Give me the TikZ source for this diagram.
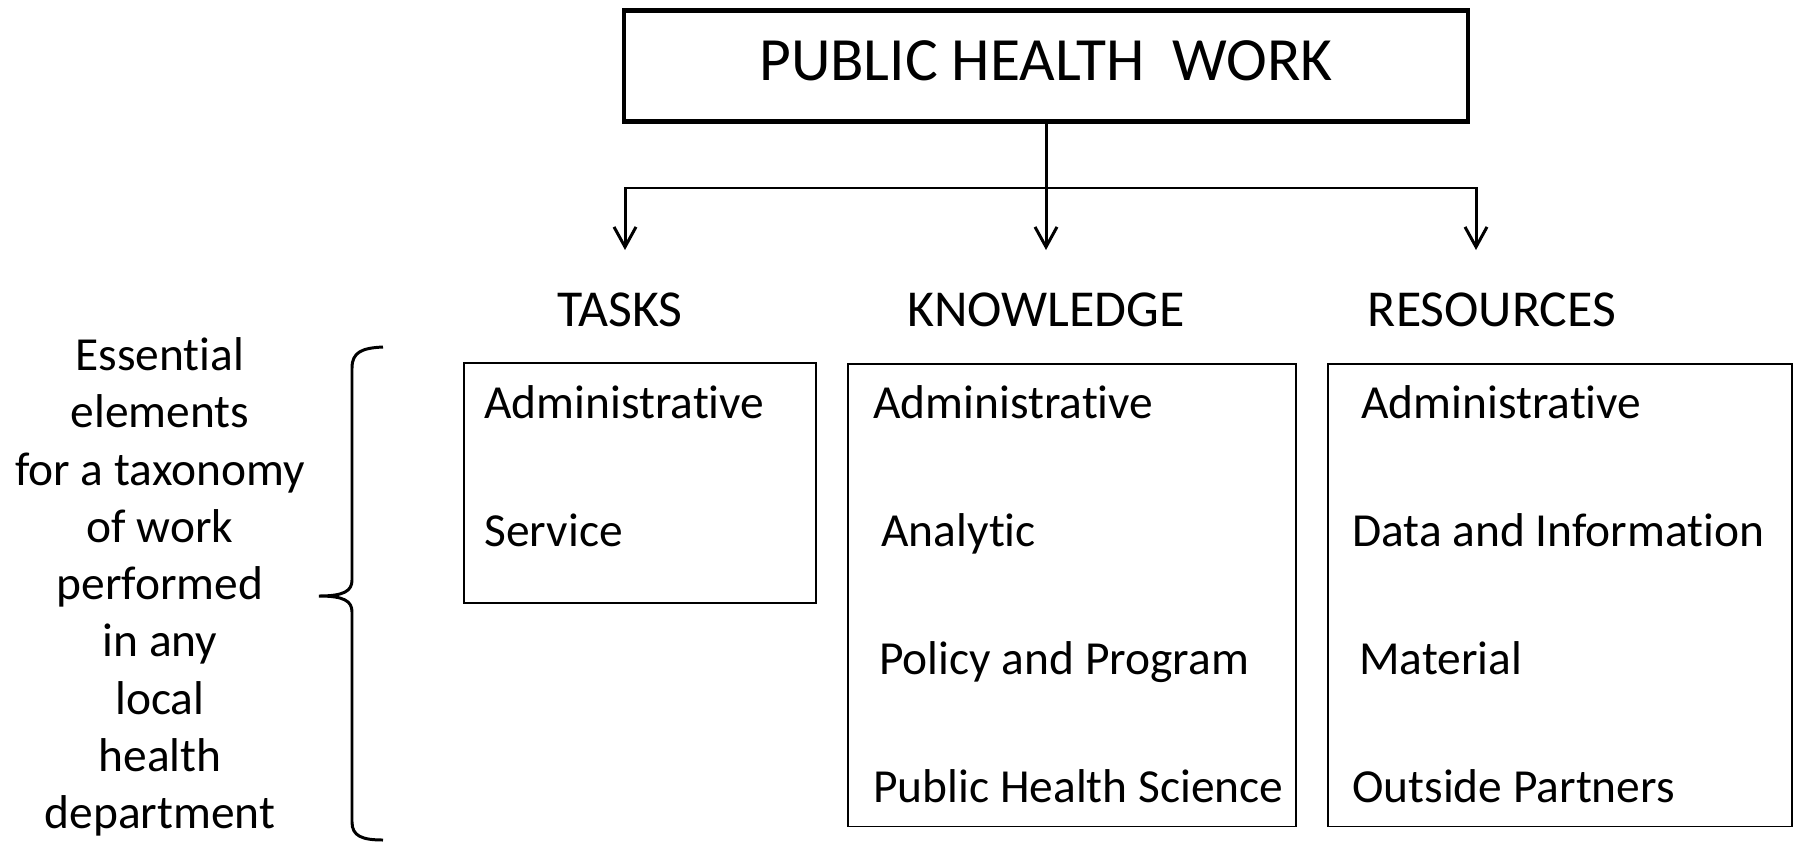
\documentclass[tikz,border=0pt]{standalone}
\usepackage{fontspec}
\setmainfont[Ligatures=NoCommon]{Carlito}
\usepackage{tikz}
\usetikzlibrary{positioning, arrows.meta}
\tikzstyle{top} = [rectangle, draw=black, line width=2.3pt, minimum width=16.9cm, minimum height=2.22cm, text centered, text depth=0.2cm, font=\fontsize{35}{40}\selectfont]
\tikzstyle{head} = [anchor=base, inner sep=0pt, font=\fontsize{29.5}{34}\selectfont]
\tikzstyle{box} = [rectangle, draw=black, line width=1.1pt]
\tikzstyle{item} = [anchor=base west, inner sep=0pt, font=\fontsize{27}{32}\selectfont]
\tikzstyle{line} = [line width=1.7pt]
\tikzstyle{arrow} = [line width=1.7pt, -{Straight Barb[length=0.4cm, width=0.44cm]}]

\begin{document}
\begin{tikzpicture}[x=0.02cm, y=-0.02cm]
\useasboundingbox (0,0) rectangle (1794,842);
\node (work) [top] at (1046,66) {PUBLIC HEALTH~~WORK};
\node (tasks) [head] at (620,326) {TASKS};
\node (knowledge) [head] at (1046,326) {KNOWLEDGE};
\node (resources) [head] at (1492,326) {RESOURCES};

\coordinate (split) at (1046,188);
\coordinate (tipT) at (625,250);
\coordinate (tipK) at (1046,250);
\coordinate (tipR) at (1476,250);
\draw[line] (work.south) -- (split);
\draw[arrow] (split) -| (tipT);
\draw[arrow] (split) -- (tipK);
\draw[arrow] (split) -| (tipR);

\node (taskbox) [box, minimum width=7.04cm, minimum height=4.8cm] at (640,483) {};
\node (knowbox) [box, minimum width=8.96cm, minimum height=9.26cm] at (1072,595) {};
\node (resbox) [box, minimum width=9.28cm, minimum height=9.26cm] at (1560,595) {};

\node (t1) [item] at (484,418) {Administrative};
\node (t2) [item] at (484,546) {Service};
\node (k1) [item] at (873,418) {Administrative};
\node (k2) [item] at (881,546) {Analytic};
\node (k3) [item] at (879,674) {Policy and Program};
\node (k4) [item] at (873,802) {Public Health Science};
\node (r1) [item] at (1361,418) {Administrative};
\node (r2) [item] at (1352,546) {Data and Information};
\node (r3) [item] at (1359,674) {Material};
\node (r4) [item] at (1352,802) {Outside Partners};

\node (note) [align=center, inner sep=0pt, font=\fontsize{27}{32.6}\selectfont] at (160,587)
  {Essential\\elements\\for a taxonomy\\of work\\performed\\in any\\local\\health\\department};
% brace
\draw[line] (383,347) .. controls (362,348) and (352,352) .. (352,368) -- (352,580)
  .. controls (352,591) and (344,596) .. (319,596)
  .. controls (344,596) and (352,601) .. (352,612) -- (352,822)
  .. controls (352,836) and (362,840) .. (383,840);
\end{tikzpicture}
\end{document}
